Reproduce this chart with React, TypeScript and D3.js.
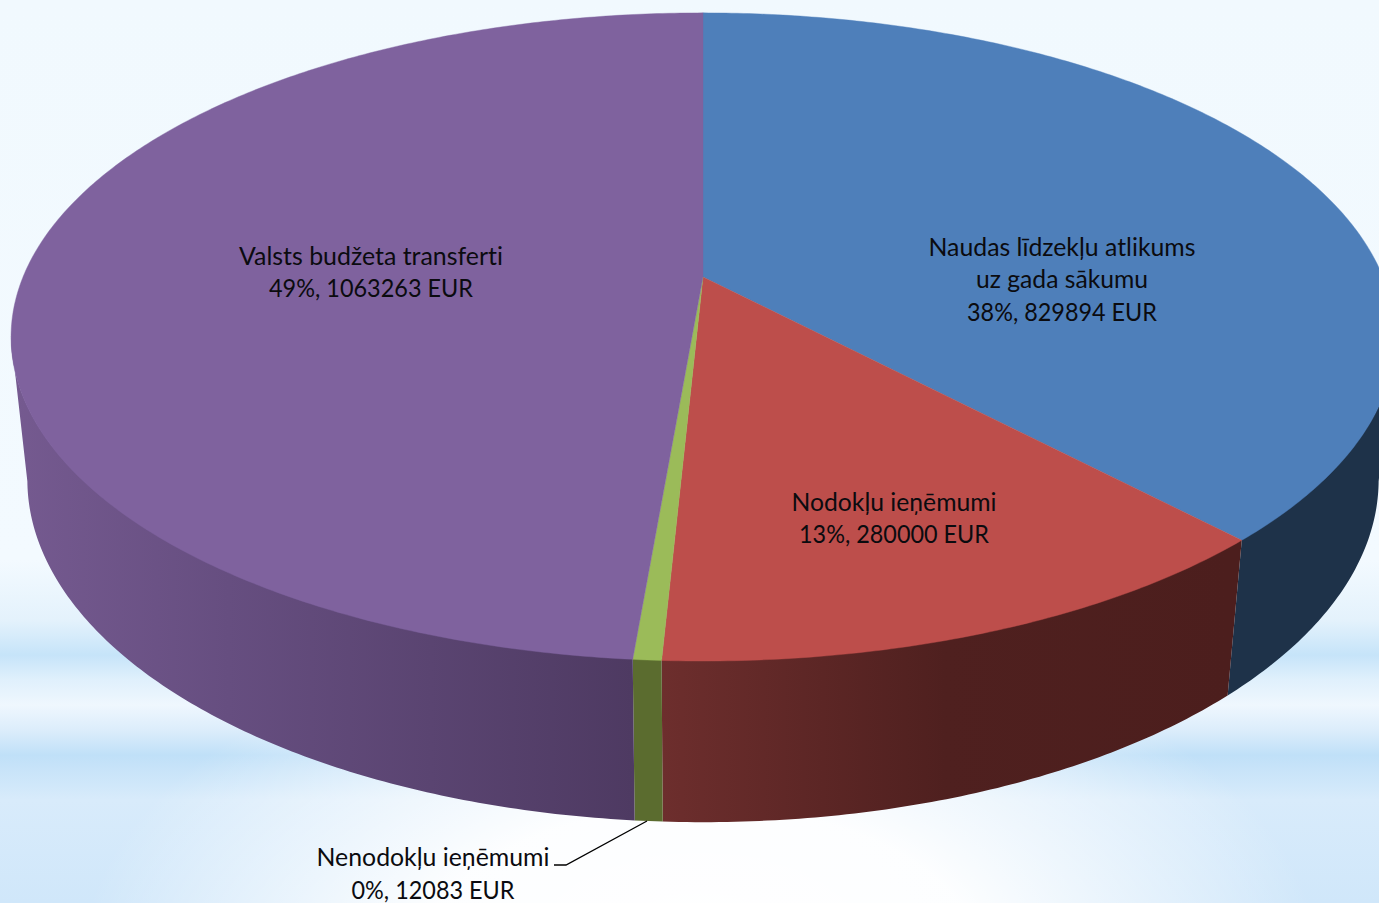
import React from "react";
import * as d3 from "d3";

const categories = ["Naudas līdzekļu atlikums", "Nodokļu ieņēmumi", "Nenodokļu ieņēmumi", "Valsts budžeta transferti"];
const values = [829894, 280000, 12083, 1063263];
const topColors = ["#4e7fba", "#bd4e4b", "#9bbb59", "#7f629e"];
const labelLines = [
  ["Naudas līdzekļu atlikums", "uz gada sākumu", "38%, 829894 EUR"],
  ["Nodokļu ieņēmumi", "13%, 280000 EUR"],
  ["Nenodokļu ieņēmumi", "0%, 12083 EUR"],
  ["Valsts budžeta transferti", "49%, 1063263 EUR"],
];
const labelWidths = [[267, 172, 190], [205, 190], [233, 163], [264, 204]];
const labelCentres = [1062, 894, 433, 371];
const labelBaselines = [255.5, 510.5, 866, 264.5];
const bgStops: [number, string][] = [
  [0, "#f1f9fe"], [560, "#f3faff"], [620, "#e4f2fc"], [655, "#c6e4f9"], [680, "#e0f0fc"], [705, "#eff7fe"],
  [730, "#dcedfb"], [755, "#c0e0f8"], [800, "#d8ebfb"], [903, "#d0e7fa"],
];

const W = 1379, H = 903;
const cx = 703, cy = 277, A = 680, B = 313, K = 0.185;
const E = 0.0233, D = 144;
// pie angles where the disc's outline turns vertical: the wall is only seen between them
const wallStart = Math.acos(-K);
const wallEnd = 2 * Math.PI - wallStart;

// perspective projection of a disc point at pie angle t; h = 0 top face, h = 1 bottom face
function proj(t: number, h: number): [number, number] {
  const u = Math.sin(t), v = -Math.cos(t);
  const w = 1 - K * v + E * h;
  return [cx + (A * u) / w, cy + (B * v + D * h) / w];
}
function arcPts(a0: number, a1: number, h: number): [number, number][] {
  const n = Math.max(2, Math.ceil(Math.abs(a1 - a0) / 0.01));
  return d3.range(n + 1).map((i) => proj(a0 + ((a1 - a0) * i) / n, h));
}
const line = d3.line();

export default function App() {
  const arcs = d3.pie<number>().sort(null)(values);
  const sideFills = ["#1e3249", "url(#sideRed)", "#5b6c2f", "url(#sidePurple)"];
  return (
    <svg width={W} height={H} viewBox={`0 0 ${W} ${H}`} style={{ position: "absolute", left: 0, top: 0, display: "block" }}>
      <defs>
        <linearGradient id="bg" gradientUnits="userSpaceOnUse" x1={0} y1={0} x2={0} y2={H}>
          {bgStops.map(([y, c]) => <stop key={y} offset={y / H} stopColor={c} />)}
        </linearGradient>
        <radialGradient id="glow" gradientUnits="userSpaceOnUse" cx={0} cy={0} r={1} gradientTransform="translate(700 960) scale(620 340)">
          <stop offset={0} stopColor="#ffffff" stopOpacity={1} />
          <stop offset={0.45} stopColor="#ffffff" stopOpacity={0.95} />
          <stop offset={1} stopColor="#ffffff" stopOpacity={0} />
        </radialGradient>
        <linearGradient id="sidePurple" gradientUnits="userSpaceOnUse" x1={11} y1={0} x2={633} y2={0}>
          <stop offset={0} stopColor="#755a90" />
          <stop offset={0.35} stopColor="#664e80" />
          <stop offset={1} stopColor="#4e3a62" />
        </linearGradient>
        <linearGradient id="sideRed" gradientUnits="userSpaceOnUse" x1={662} y1={0} x2={1228} y2={0}>
          <stop offset={0} stopColor="#6d2e2d" />
          <stop offset={0.5} stopColor="#4f201f" />
          <stop offset={1} stopColor="#4c1e1d" />
        </linearGradient>
      </defs>
      <rect width={W} height={H} fill="url(#bg)" />
      <rect width={W} height={H} fill="url(#glow)" />
      <g>
        {arcs.map((a, i) => {
          const s = Math.max(a.startAngle, wallStart);
          const e = Math.min(a.endAngle, wallEnd);
          if (e <= s) return null;
          return <path key={i} d={line([...arcPts(s, e, -0.008), ...arcPts(e, s, 1)]) + "Z"} fill={sideFills[i]} />;
        })}
      </g>
      <g>
        {arcs.map((a, i) => (
          <path key={i} d={line([[cx, cy], ...arcPts(a.startAngle, a.endAngle, 0)]) + "Z"} fill={topColors[i]} stroke={topColors[i]} strokeWidth={0.4} />
        ))}
      </g>
      <path d={line([[647, 821], [566, 865], [554, 865]]) || ""} fill="none" stroke="#000" strokeWidth={1.3} />
      <g fontFamily="Lato, 'Open Sans', sans-serif" fontSize={25} fill="#0b0b0f" textAnchor="middle" style={{ fontVariantLigatures: "none" }}>
        {categories.map((c, i) =>
          labelLines[i].map((t, j) => (
            <text key={c + j} x={labelCentres[i]} y={labelBaselines[i] + j * 32.5} textLength={labelWidths[i][j]} lengthAdjust="spacingAndGlyphs">{t}</text>
          ))
        )}
      </g>
    </svg>
  );
}
